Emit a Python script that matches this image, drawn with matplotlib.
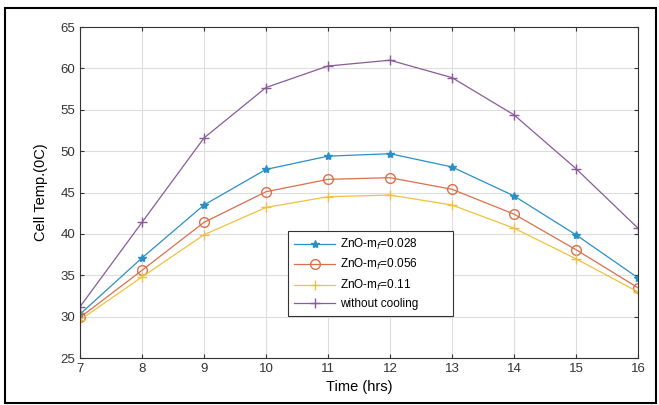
import matplotlib
matplotlib.use('Agg')
import matplotlib.pyplot as plt
from matplotlib.patches import Rectangle

plt.rcParams['font.family'] = ['Liberation Sans', 'DejaVu Sans']

hours = [7, 8, 9, 10, 11, 12, 13, 14, 15, 16]
temp_028 = [30.3, 37.1, 43.5, 47.8, 49.4, 49.7, 48.1, 44.6, 39.9, 34.7]
temp_056 = [29.9, 35.6, 41.4, 45.1, 46.6, 46.8, 45.4, 42.4, 38.1, 33.5]
temp_011 = [29.6, 34.8, 39.9, 43.2, 44.5, 44.7, 43.5, 40.7, 37.0, 33.0]
temp_none = [31.2, 41.4, 51.6, 57.7, 60.3, 61.0, 58.9, 54.4, 47.9, 40.7]
labels = ['ZnO-m$_f$=0.028', 'ZnO-m$_f$=0.056', 'ZnO-m$_f$=0.11', 'without cooling']

fig = plt.figure(figsize=(6.59, 4.05), dpi=100)
ax = fig.add_axes([0.1214, 0.116, 0.8466, 0.817])

ax.plot(hours, temp_028, color='#2a8fc7', marker='*', markersize=6, lw=0.9, label=labels[0])
ax.plot(hours, temp_056, color='#d9704a', marker='o', markersize=7, mfc='none', lw=0.9, label=labels[1])
ax.plot(hours, temp_011, color='#f0c040', marker='+', markersize=7, lw=0.9, label=labels[2])
ax.plot(hours, temp_none, color='#8a5a9a', marker='+', markersize=7, lw=0.9, label=labels[3])

ax.set_xlim(7, 16)
ax.set_ylim(25, 65)
ax.set_xticks(hours)
ax.set_yticks(range(25, 66, 5))
ax.grid(True, color='#dddddd', lw=0.8)
ax.tick_params(direction='in', top=True, right=True, labelsize=9.5, length=3, colors='#333333')
for s in ax.spines.values():
    s.set_color('#333333')
    s.set_linewidth(0.8)

ax.set_xlabel('Time (hrs)', fontsize=10.5)
ax.set_ylabel('Cell Temp.(0C)', fontsize=10.5, labelpad=9)

leg = ax.legend(loc='lower left', bbox_to_anchor=(0.373, 0.127, 0.296, 0.253), mode='expand',
                borderaxespad=0, fontsize=8.5, fancybox=False, edgecolor='#333333', framealpha=1,
                handlelength=3.5, borderpad=0.5, labelspacing=0.45, handletextpad=0.4)
leg.get_frame().set_linewidth(0.8)

fig.patches.append(Rectangle((0.007, 0.005), 0.988, 0.975, transform=fig.transFigure,
                             fill=False, edgecolor='black', lw=1.5))

fig.savefig('out.png', dpi=100)
